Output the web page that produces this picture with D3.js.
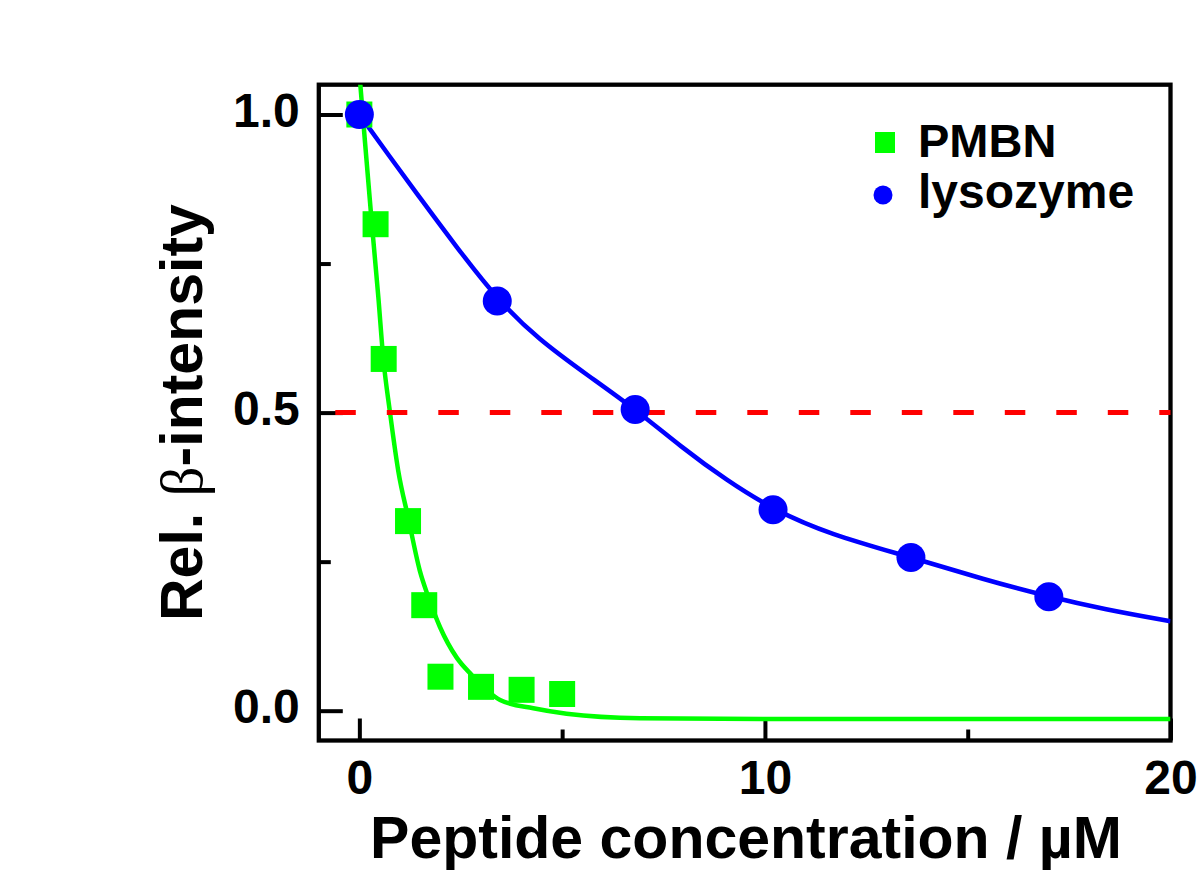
<!DOCTYPE html>
<html><head><meta charset="utf-8">
<script src="https://cdn.jsdelivr.net/npm/d3@7"></script>
<style>body{margin:0;background:#fff;} svg{display:block;}</style>
</head><body>
<svg id="chart" width="1200" height="885"></svg>
<script>
// ---- data ----
const seriesNames = ["PMBN", "lysozyme"];
const pmbnX = [0, 0.4, 0.6, 1.2, 1.6, 2.0, 3.0, 4.0, 5.0];
const pmbnY = [1.0, 0.816, 0.59, 0.318, 0.177, 0.057, 0.040, 0.035, 0.028];
const lysoX = [0, 3.4, 6.8, 10.2, 13.6, 17.0];
const lysoY = [1.0, 0.687, 0.505, 0.337, 0.257, 0.191];
const pmbnFitX = [0, 0.14, 0.30, 0.47, 0.59, 0.75, 0.96, 1.21, 1.49, 1.70, 1.99, 2.40, 2.77, 3.47, 4.29, 5.11, 6.92, 10, 15, 20];
const pmbnFitY = [1.07, 0.953, 0.823, 0.692, 0.591, 0.503, 0.402, 0.322, 0.235, 0.191, 0.140, 0.089, 0.060, 0.018, 0.004, -0.005, -0.0126, -0.014, -0.014, -0.014];
const lysoFitX = [0, 0.71, 1.54, 2.36, 3.41, 4.41, 5.64, 6.82, 7.94, 9.04, 10.21, 11.59, 13.62, 15.40, 17.01, 18.37, 20];
const lysoFitY = [1.0, 0.933, 0.856, 0.781, 0.689, 0.623, 0.562, 0.505, 0.442, 0.387, 0.337, 0.296, 0.257, 0.220, 0.191, 0.170, 0.150];
const halfLevel = 0.5;
const xMajorTicks = [0, 10, 20];
const xMinorTicks = [5, 15];
const yMajorTicks = [0, 0.5, 1.0];
const yMinorTicks = [0.25, 0.75];
const xTitle = "Peptide concentration / \u00B5M";

// ---- layout ----
const L = 318.8, R = 1170.5, T = 84.7, B = 740.5;
const FONT = "'Liberation Sans', Arial, Helvetica, sans-serif";
const svg = d3.select("#chart");
const x = d3.scaleLinear().domain([-1, 20]).range([L, R]);
const y = d3.scaleLinear().domain([-0.05, 1.05]).range([B, T]);

svg.append("defs").append("clipPath").attr("id", "plotclip")
  .append("rect").attr("x", L).attr("y", T).attr("width", R - L).attr("height", B - T);

// axes
function styleAxis(g) {
  g.select(".domain").remove();
  g.selectAll(".tick line").attr("stroke", "#000").attr("stroke-width", 4);
  g.selectAll(".tick text").attr("fill", "#000").attr("font-family", FONT)
    .attr("font-weight", "bold").attr("font-size", 48);
}
svg.append("g").attr("transform", `translate(${L},0)`)
  .call(d3.axisLeft(y).tickValues(yMajorTicks).tickSize(-24).tickPadding(19).tickFormat(d3.format(".1f")))
  .call(styleAxis)
  .call(g => g.selectAll(".tick text").attr("dy", "0.24em"));
svg.append("g").attr("transform", `translate(${L},0)`)
  .call(d3.axisLeft(y).tickValues(yMinorTicks).tickSize(-12).tickFormat(""))
  .call(styleAxis);
svg.append("g").attr("transform", `translate(0,${B})`)
  .call(d3.axisBottom(x).tickValues(xMajorTicks).tickSize(-22).tickPadding(19).tickFormat(d3.format("d")))
  .call(styleAxis)
  .call(g => g.selectAll(".tick text").attr("dy", "0.71em"));
svg.append("g").attr("transform", `translate(0,${B})`)
  .call(d3.axisBottom(x).tickValues(xMinorTicks).tickSize(-11).tickFormat(""))
  .call(styleAxis);

// frame
svg.append("rect").attr("x", L).attr("y", T).attr("width", R - L).attr("height", B - T)
  .attr("fill", "none").attr("stroke", "#000").attr("stroke-width", 4.3);

// fit curves
const plot = svg.append("g").attr("clip-path", "url(#plotclip)");
const lineG = d3.line().x(d => x(d[0])).y(d => y(d[1])).curve(d3.curveMonotoneX);
const lineB = d3.line().x(d => x(d[0])).y(d => y(d[1])).curve(d3.curveBasis);
plot.append("path").datum(d3.zip(pmbnFitX, pmbnFitY)).attr("d", lineG)
  .attr("fill", "none").attr("stroke", "#00ff00").attr("stroke-width", 4.5);
plot.append("path").datum(d3.zip(lysoFitX, lysoFitY)).attr("d", lineB)
  .attr("fill", "none").attr("stroke", "#0000ff").attr("stroke-width", 4.5);

// half level dashed line
svg.append("line").attr("x1", L).attr("x2", R).attr("y1", y(halfLevel)).attr("y2", y(halfLevel))
  .attr("stroke", "#ff0000").attr("stroke-width", 5)
  .attr("stroke-dasharray", "20.5 31").attr("stroke-dashoffset", 35);

// markers
const sq = 26;
svg.append("g").selectAll("rect").data(d3.zip(pmbnX, pmbnY)).join("rect")
  .attr("x", d => x(d[0]) - sq / 2).attr("y", d => y(d[1]) - sq / 2)
  .attr("width", sq).attr("height", sq).attr("fill", "#00ff00");
svg.append("g").selectAll("circle").data(d3.zip(lysoX, lysoY)).join("circle")
  .attr("cx", d => x(d[0])).attr("cy", d => y(d[1])).attr("r", 14.5).attr("fill", "#0000ff");

// legend
const lg = svg.append("g");
lg.append("rect").attr("x", 875).attr("y", 132).attr("width", 20).attr("height", 21).attr("fill", "#00ff00");
lg.append("circle").attr("cx", 883).attr("cy", 195).attr("r", 9.5).attr("fill", "#0000ff");
lg.append("text").attr("x", 918).attr("y", 157).text(seriesNames[0])
  .attr("font-family", FONT).attr("font-weight", "bold").attr("font-size", 47);
lg.append("text").attr("x", 918).attr("y", 208).text(seriesNames[1])
  .attr("font-family", FONT).attr("font-weight", "bold").attr("font-size", 48);

// axis titles
svg.append("text").attr("x", 746).attr("y", 858).attr("text-anchor", "middle")
  .attr("font-family", FONT).attr("font-weight", "bold").attr("font-size", 59).text(xTitle);
const yt = svg.append("text").attr("transform", `translate(202,${(T + B) / 2}) rotate(-90)`)
  .attr("text-anchor", "middle").attr("font-family", FONT).attr("font-weight", "bold").attr("font-size", 59);
yt.append("tspan").text("Rel. ");
yt.append("tspan").attr("font-family", "'Liberation Serif', 'DejaVu Serif', serif").attr("font-weight", "normal").text("\u03B2");
yt.append("tspan").text("-intensity");
</script>
</body></html>
